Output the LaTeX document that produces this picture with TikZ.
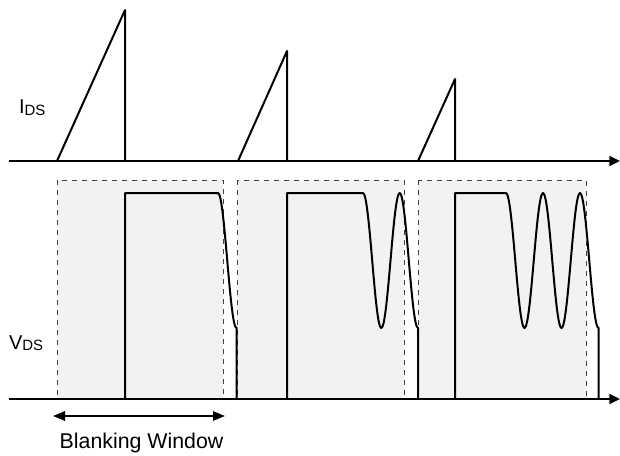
\documentclass[tikz,border=0pt]{standalone}
\usepackage{fontspec}
\setmainfont{Liberation Sans}
\usetikzlibrary{arrows.meta}

\begin{document}
\begin{tikzpicture}[x=0.75pt, y=-0.75pt, line width=1.5pt,
    wave/.style={line join=round},
    window/.style={draw=black!75, line width=0.75pt, dash pattern=on 4pt off 3.5pt, fill=black!5},
    axis/.style={-{Triangle[length=8pt, width=7.5pt]}},
    span/.style={{Triangle[length=9pt, width=7pt]}-{Triangle[length=9pt, width=7pt]}},
    lbl/.style={inner sep=0pt, font=\fontsize{15}{18}\selectfont}]
    \useasboundingbox (0,0) rectangle (620,456);
    % blanking windows
    \foreach \xa/\xb in {57/223, 237/404, 418/586}
        \draw[window] (\xa,180) rectangle (\xb,399);
    % drain current
    \draw[axis] (9,161) -- (620,161);
    \draw[wave] (57,161) -- (125,10) -- (125,161);
    \draw[wave] (238,161) -- (287,51) -- (287,161);
    \draw[wave] (418,161) -- (455,79) -- (455,161);
    \node[lbl, anchor=base west] (ids) at (18,114) {I\raisebox{-1.3pt}{\fontsize{11.2}{13}\selectfont DS}};
    % drain voltage
    \draw[axis] (9,399) -- (620,399);
    \draw[wave] (125,399) -- (125,193) -- (218,193) cos (227.25,260.5) sin (236.5,328) -- (236.5,399);
    \draw[wave] (287,399) -- (287,193) -- (363,193) cos (372.2,260.5) sin (381.3,328)
        cos (390.5,260.5) sin (399.7,193) cos (408.8,260.5) sin (418,328) -- (418,399);
    \draw[wave] (455,399) -- (455,193) -- (506,193) cos (515.25,260.5) sin (524.5,328)
        cos (533.75,260.5) sin (543,193) cos (552.25,260.5) sin (561.5,328)
        cos (570.75,260.5) sin (580,193) cos (589.25,260.5) sin (598.5,328) -- (598.5,399);
    \node[lbl, anchor=base west] (vds) at (8,349) {V\raisebox{-1.3pt}{\fontsize{11.2}{13}\selectfont DS}};
    % blanking time
    \coordinate (bw-l) at (53,416);
    \coordinate (bw-r) at (225,416);
    \draw[span] (bw-l) -- (bw-r);
    \node[inner sep=0pt, font=\fontsize{16}{19}\selectfont, anchor=base] (bw) at (141.5,448) {Blanking Window};
\end{tikzpicture}
\end{document}
